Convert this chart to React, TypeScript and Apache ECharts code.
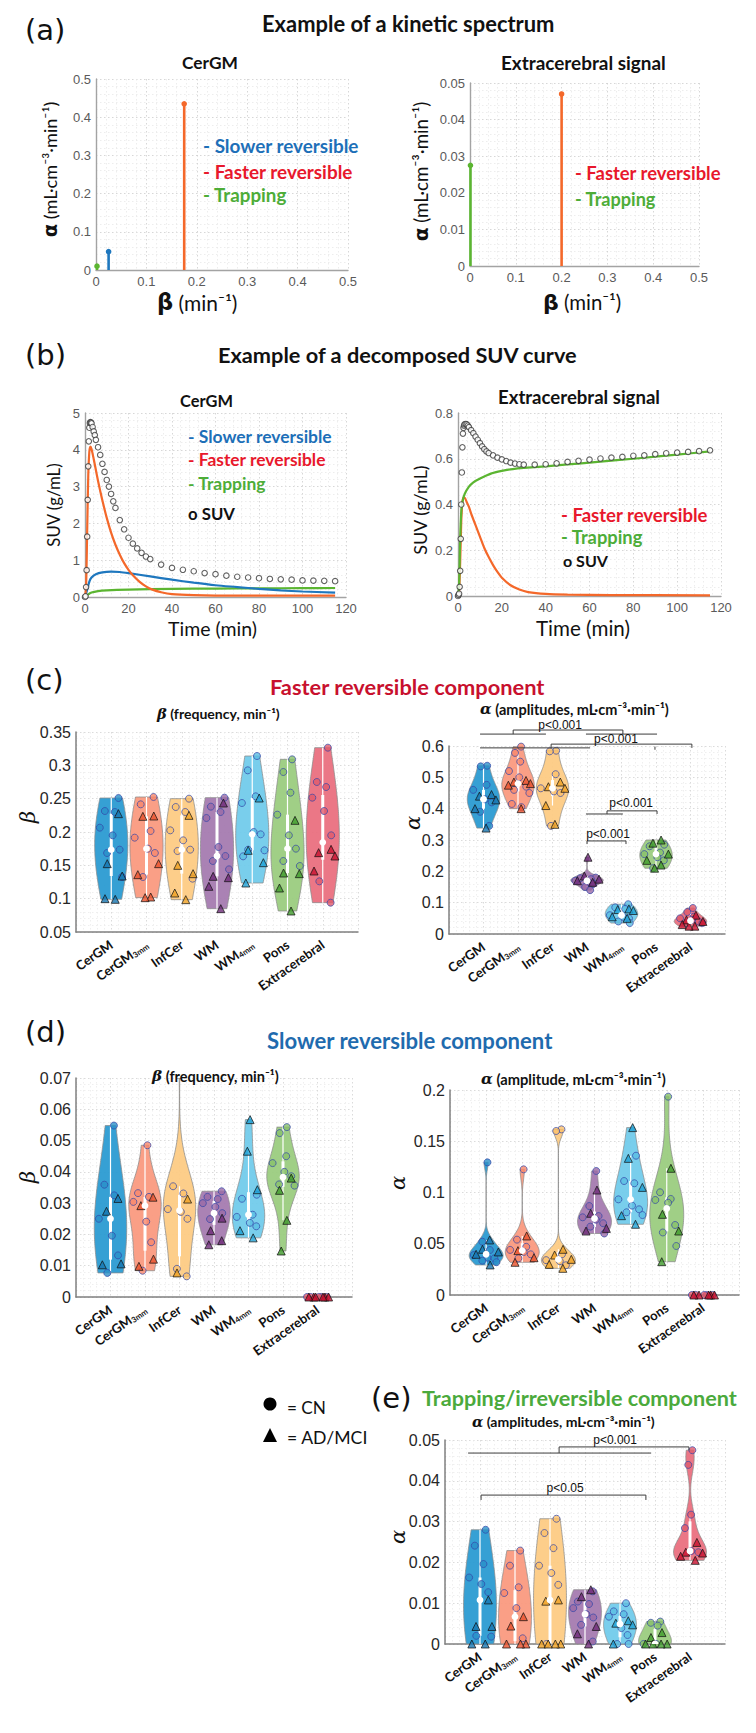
import React, { useEffect, useRef } from 'react';
import * as echarts from 'echarts';

// ---------------- data ----------------
const CATEGORY_LABELS = ['CerGM', '{a|CerGM}{s|3mm}', 'InfCer', 'WM', '{a|WM}{s|4mm}', 'Pons', 'Extracerebral'];

// (a) kinetic spectra
const SPEC_CERGM_BETA = [0.002, 0.025, 0.175];
const SPEC_CERGM_ALPHA = [0.01, 0.048, 0.435];
const SPEC_CERGM_COMP = ['trap', 'slow', 'fast'];
const SPEC_EXTRA_BETA = [0.001, 0.2];
const SPEC_EXTRA_ALPHA = [0.0275, 0.047];
const SPEC_EXTRA_COMP = ['trap', 'fast'];

// (b) decomposed SUV curves
const FRAME_T = [0, 0.25, 0.5, 0.75, 1, 1.25, 1.5, 1.75, 2, 2.25, 2.5, 2.75, 3, 3.5, 4, 4.5, 5, 6, 7, 8, 9, 10, 11, 12, 13, 14, 16, 18, 20, 22, 24, 26, 28, 30, 35, 40, 45, 50, 55, 60, 65, 70, 75, 80, 85, 90, 95, 100, 105, 110, 115];
const SUV_CERGM = [0, 0.02, 0.27, 0.73, 1.64, 2.64, 3.55, 4.23, 4.6, 4.73, 4.75, 4.74, 4.72, 4.62, 4.5, 4.4, 4.27, 4.07, 3.86, 3.62, 3.4, 3.18, 3.0, 2.8, 2.6, 2.42, 2.09, 1.84, 1.61, 1.45, 1.32, 1.2, 1.1, 1.03, 0.88, 0.79, 0.74, 0.7, 0.65, 0.62, 0.58, 0.55, 0.53, 0.51, 0.49, 0.48, 0.47, 0.45, 0.445, 0.44, 0.43];
const SUV_EXTRA = [0, 0.005, 0.01, 0.04, 0.11, 0.25, 0.4, 0.54, 0.65, 0.71, 0.735, 0.745, 0.75, 0.752, 0.75, 0.745, 0.738, 0.725, 0.712, 0.697, 0.683, 0.668, 0.654, 0.642, 0.632, 0.625, 0.615, 0.605, 0.597, 0.59, 0.583, 0.579, 0.576, 0.574, 0.574, 0.576, 0.58, 0.586, 0.591, 0.596, 0.601, 0.605, 0.608, 0.613, 0.615, 0.62, 0.624, 0.627, 0.63, 0.633, 0.637];

const FAST_CERGM_T = [0, 0.5, 1, 1.5, 2, 2.5, 3, 4, 5, 6, 7, 8, 10, 12, 14, 16, 18, 20, 22, 25, 28, 31, 35, 40, 50, 60, 80, 100, 115];
const FAST_CERGM_V = [0, 0.3, 1.8, 3.3, 3.95, 4.09, 4.02, 3.75, 3.45, 3.15, 2.88, 2.62, 2.15, 1.75, 1.42, 1.15, 0.92, 0.74, 0.59, 0.42, 0.29, 0.2, 0.13, 0.08, 0.05, 0.04, 0.04, 0.04, 0.04];
const SLOW_CERGM_T = [0, 1, 2, 3, 5, 8, 12, 16, 20, 30, 40, 50, 60, 70, 80, 90, 100, 115];
const SLOW_CERGM_V = [0, 0.2, 0.42, 0.53, 0.62, 0.67, 0.69, 0.68, 0.65, 0.56, 0.47, 0.39, 0.32, 0.27, 0.22, 0.18, 0.15, 0.12];
const TRAP_CERGM_T = [0, 1, 3, 6, 10, 20, 40, 60, 80, 100, 115];
const TRAP_CERGM_V = [0, 0.05, 0.12, 0.16, 0.18, 0.2, 0.22, 0.23, 0.235, 0.24, 0.245];
const FAST_EXTRA_T = [0, 0.5, 1, 1.5, 2, 2.5, 3, 4, 5, 6, 8, 10, 12, 14, 16, 18, 20, 24, 28, 32, 40, 50, 70, 115];
const FAST_EXTRA_V = [0, 0.02, 0.15, 0.33, 0.41, 0.43, 0.43, 0.41, 0.39, 0.36, 0.31, 0.26, 0.21, 0.17, 0.135, 0.105, 0.08, 0.047, 0.028, 0.017, 0.009, 0.006, 0.004, 0.003];
const TRAP_EXTRA_T = [0, 0.5, 1, 1.5, 2, 3, 5, 7, 10, 15, 20, 25, 30, 40, 50, 60, 70, 80, 90, 100, 115];
const TRAP_EXTRA_V = [0, 0.05, 0.25, 0.37, 0.41, 0.445, 0.478, 0.497, 0.513, 0.535, 0.547, 0.555, 0.56, 0.567, 0.575, 0.583, 0.592, 0.6, 0.609, 0.618, 0.632];

// (c) faster reversible component
const FAST_BETA_CN = [
  [0.251, 0.2315, 0.23, 0.2065, 0.195, 0.1735, 0.1685, 0.1325],
  [0.2525, 0.2415, 0.2015, 0.1915, 0.175, 0.1685, 0.1325],
  [0.25, 0.2375, 0.23, 0.2025, 0.1875, 0.1735, 0.1715, 0.13],
  [0.2515, 0.238, 0.23, 0.221, 0.1775, 0.164, 0.1565, 0.144],
  [0.314, 0.2925, 0.2535, 0.2435, 0.2, 0.1965, 0.1735, 0.1725, 0.1635],
  [0.309, 0.29, 0.259, 0.226, 0.195, 0.175, 0.1565, 0.149],
  [0.3265, 0.275, 0.2675, 0.2515, 0.2315, 0.195, 0.126, 0.094],
];
const FAST_BETA_AD = [
  [0.2275, 0.1525, 0.134, 0.1, 0.099],
  [0.224, 0.2235, 0.1525, 0.136, 0.1025, 0.1015],
  [0.225, 0.15, 0.1375, 0.1085, 0.0985],
  [0.2435, 0.1335, 0.1315, 0.1185, 0.085],
  [0.251, 0.1725, 0.154, 0.1235],
  [0.2175, 0.1385, 0.1375, 0.116, 0.0815],
  [0.174, 0.169, 0.164, 0.1415],
];
const FAST_ALPHA_CN = [
  [0.537, 0.535, 0.476, 0.46, 0.43, 0.42, 0.39, 0.345],
  [0.598, 0.578, 0.55, 0.52, 0.5, 0.47, 0.46, 0.45, 0.415, 0.405],
  [0.585, 0.583, 0.51, 0.465, 0.455, 0.45, 0.345],
  [0.18, 0.178, 0.175, 0.17, 0.165, 0.16, 0.15, 0.14],
  [0.095, 0.085, 0.08, 0.06, 0.055, 0.05, 0.04, 0.035],
  [0.285, 0.28, 0.26, 0.255, 0.245, 0.235, 0.21],
  [0.083, 0.07, 0.055, 0.05, 0.045, 0.04, 0.035, 0.035],
];
const FAST_ALPHA_AD = [
  [0.445, 0.44, 0.428, 0.4, 0.338],
  [0.49, 0.485, 0.48, 0.475, 0.4],
  [0.485, 0.47, 0.465, 0.41, 0.35],
  [0.245, 0.185, 0.175, 0.17, 0.165],
  [0.08, 0.078, 0.075, 0.055, 0.05],
  [0.3, 0.29, 0.255, 0.235, 0.22, 0.21],
  [0.06, 0.045, 0.04, 0.03, 0.025, 0.025],
];

// (d) slower reversible component
const SLOW_BETA_CN = [
  [0.0548, 0.0359, 0.0325, 0.025, 0.0196, 0.0133, 0.0077],
  [0.0485, 0.0332, 0.032, 0.0304, 0.0241, 0.0175, 0.0084],
  [0.09, 0.0354, 0.0331, 0.0281, 0.0272, 0.025, 0.009, 0.0066],
  [0.0338, 0.032, 0.0313, 0.03, 0.0288, 0.0268, 0.0249],
  [0.0327, 0.0314, 0.0263, 0.0256, 0.0237, 0.0226],
  [0.0543, 0.0524, 0.045, 0.0428, 0.04, 0.0386, 0.036, 0.0356],
  [0, 0, 0, 0, 0],
];
const SLOW_BETA_AD = [
  [0.0315, 0.0274, 0.0106, 0.0103],
  [0.0319, 0.0292, 0.0121, 0.0098],
  [0.0313, 0.0077],
  [0.0252, 0.0212, 0.018, 0.0167],
  [0.0567, 0.0466, 0.0343, 0.0212, 0.0189],
  [0.038, 0.0341, 0.0245, 0.0147],
  [0, 0, 0, 0, 0, 0],
];
const SLOW_ALPHA_CN = [
  [0.1294, 0.052, 0.0439, 0.039, 0.0364, 0.0358, 0.0335, 0.032],
  [0.1226, 0.054, 0.047, 0.044, 0.042, 0.0397, 0.0358],
  [0.1616, 0.16, 0.0397, 0.034, 0.033, 0.029],
  [0.121, 0.0868, 0.077, 0.0758, 0.0735, 0.07, 0.0667, 0.06],
  [0.1359, 0.1112, 0.109, 0.0933, 0.0872, 0.0836, 0.0807, 0.078],
  [0.1935, 0.1002, 0.0937, 0.0927, 0.09, 0.0683, 0.061, 0.0478],
  [0, 0, 0, 0, 0],
];
const SLOW_ALPHA_AD = [
  [0.0537, 0.0446, 0.042, 0.0397, 0.0293],
  [0.0576, 0.0433, 0.0364, 0.0319],
  [0.0446, 0.039, 0.0348, 0.0299, 0.026],
  [0.1024, 0.0797, 0.065, 0.0624],
  [0.1633, 0.1333, 0.105, 0.0774, 0.069],
  [0.1236, 0.0787, 0.0624, 0.0325],
  [0, 0, 0, 0, 0],
];

// (e) trapping component
const TRAP_ALPHA_CN = [
  [0.028, 0.0241, 0.0196, 0.0163, 0.0147, 0.0127, 0.002, 0.0018],
  [0.0229, 0.0192, 0.0139, 0.0125, 0.0088, 0.0014],
  [0.0307, 0.0272, 0.0235, 0.0192, 0.0174, 0.0145, 0],
  [0.0129, 0.0104, 0.0098, 0.0088, 0.0073, 0.0065, 0.0047, 0.0006],
  [0.01, 0.008, 0.0073, 0.0067, 0.0039, 0.0022, 0, 0],
  [0.0055, 0.0052, 0.0045, 0, 0],
  [0.0475, 0.0439, 0.0317, 0.0284, 0.0228, 0.0225],
];
const TRAP_ALPHA_AD = [
  [0.0108, 0.0043, 0.0043, 0, 0],
  [0.0067, 0.0044, 0, 0, 0],
  [0.0108, 0.0105, 0, 0, 0, 0],
  [0.0133, 0.0116, 0.0043, 0.0025, 0],
  [0.0057, 0.0051, 0.0047, 0],
  [0.0028, 0.0016, 0, 0, 0, 0],
  [0.0249, 0.0225, 0.0223, 0.0215, 0.0205],
];

// significance brackets: [x1, y1, x2, y2] in axis units
const BRACKETS_C = [
  [0.9, 0.638, 2.81, 0.638], [3.97, 0.638, 6.03, 0.638],
  [1.86, 0.638, 1.86, 0.651], [1.86, 0.651, 5.04, 0.651], [5.04, 0.651, 5.04, 0.638],
  [0.9, 0.594, 4.09, 0.594],
  [2.96, 0.594, 2.96, 0.606], [2.96, 0.606, 7.04, 0.606], [7.04, 0.606, 7.04, 0.594],
  [5.97, 0.598, 5.97, 0.588],
  [3.97, 0.383, 5.04, 0.383],
  [4.58, 0.383, 4.58, 0.393], [4.58, 0.393, 6.03, 0.393], [6.03, 0.393, 6.03, 0.383],
  [4.0, 0.287, 4.0, 0.297], [4.0, 0.297, 5.13, 0.297], [5.13, 0.297, 5.13, 0.287],
];
const PTEXT_C = [[3.22, 0.667], [4.84, 0.623], [5.28, 0.418], [4.61, 0.319]];
const PLABEL_C = ['p<0.001', 'p<0.001', 'p<0.001', 'p<0.001'];
const BRACKETS_E = [
  [0.66, 0.0468, 5.89, 0.0468],
  [3.26, 0.0468, 3.26, 0.0483], [3.26, 0.0483, 6.97, 0.0483], [6.97, 0.0483, 6.97, 0.0475],
  [1.03, 0.0353, 1.03, 0.0365], [1.03, 0.0365, 5.74, 0.0365], [5.74, 0.0365, 5.74, 0.0353],
];
const PTEXT_E = [[4.86, 0.0501], [3.43, 0.0382]];
const PLABEL_E = ['p<0.001', 'p<0.05'];

// ---------------- styles ----------------
const FONT = 'Lato, "Noto Sans", "DejaVu Sans", sans-serif';
const NUMFONT = '"Liberation Sans", Arial, sans-serif';
const DVS = '"DejaVu Sans", sans-serif';
const DVSERIF = '"DejaVu Serif", serif';
const COMP_LINE = { slow: '#1E77BE', fast: '#F4682A', trap: '#5BB531' };
const COMP_TEXT = { slow: '#1D6FB8', fast: '#E8182C', trap: '#4DAD38' };
const VIOLIN_FILL = ['#2B9BD2', '#FA9A80', '#FDCB84', '#A57BB0', '#72CBEB', '#9BCC7F', '#EA7080'];
const CIRCLE_FILL = ['#2A90C8', '#F7876B', '#FBC06A', '#9A6AA6', '#5BBEE3', '#88C06A', '#E05A6B'];
const TRI_FILL = ['#1776B0', '#E8502A', '#EFA020', '#6E2A78', '#1EA0D5', '#3E9A2A', '#C8102E'];
const JITTER = [0.75, -0.55, 0.3, -0.85, 0.1, 0.6, -0.3, 0.9, -0.7, 0.45, -0.15, 0.8, -0.5, 0.2, -0.9, 0.55, -0.4, 0.05];

const GRIDS = [
  [96, 79, 252, 191],
  [470, 83, 229, 183],
  [85, 413, 261, 184],
  [458, 413, 263, 183],
  [76, 732, 282, 200],
  [449, 746, 276, 188],
  [76, 1078, 276, 219],
  [450, 1090, 289, 205],
  [445, 1440, 280, 204],
];

// ---------------- helpers ----------------
const pairs = (t: number[], v: number[]) => t.map((x, i) => [x, v[i]]);
function quantile(s: number[], p: number) {
  const pos = (s.length - 1) * p;
  const lo = Math.floor(pos), hi = Math.ceil(pos);
  return s[lo] + (s[hi] - s[lo]) * (pos - lo);
}
function stats(vals: number[]) {
  const s = [...vals].sort((a, b) => a - b);
  const med = quantile(s, 0.5), q1 = quantile(s, 0.25), q3 = quantile(s, 0.75);
  const iqr = q3 - q1;
  let lo = s[0], hi = s[s.length - 1];
  for (const v of s) { if (v >= q1 - 1.5 * iqr) { lo = v; break; } }
  for (let i = s.length - 1; i >= 0; i--) { if (s[i] <= q3 + 1.5 * iqr) { hi = s[i]; break; } }
  return { med, q1, q3, lo, hi };
}
function kdeProfile(vals: number[], maxHalf: number) {
  const n = vals.length;
  const s = [...vals].sort((a, b) => a - b);
  const lo = s[0], hi = s[n - 1];
  if (hi - lo < 1e-12) return null;
  const med = quantile(s, 0.5);
  const dev = s.map(v => Math.abs(v - med)).sort((a, b) => a - b);
  let sig = quantile(dev, 0.5) / 0.6745;
  if (!(sig > 0)) {
    const m = s.reduce((a, b) => a + b, 0) / n;
    sig = Math.sqrt(s.reduce((a, b) => a + (b - m) * (b - m), 0) / (n - 1));
  }
  const h = 1.5 * sig * Math.pow(4 / (3 * n), 0.2);
  const N = 80;
  const prof: number[][] = [];
  let mx = 0;
  for (let i = 0; i <= N; i++) {
    const y = lo + ((hi - lo) * i) / N;
    let d = 0;
    for (const v of s) d += Math.exp(-0.5 * ((y - v) / h) * ((y - v) / h));
    prof.push([y, d]);
    if (d > mx) mx = d;
  }
  return prof.map(([y, d]) => [y, (d / mx) * maxHalf]);
}
function hwAt(prof: number[][] | null, y: number) {
  if (!prof) return 0.42;
  if (y <= prof[0][0]) return prof[0][1];
  for (let i = 1; i < prof.length; i++) {
    if (y <= prof[i][0]) {
      const [y0, w0] = prof[i - 1], [y1, w1] = prof[i];
      return w0 + ((w1 - w0) * (y - y0)) / (y1 - y0 || 1);
    }
  }
  return prof[prof.length - 1][1];
}

// text fitting: measure with canvas so the text spans the same width as in the reference
let measureCtx: any = null;
function measureWidth(text: string, font: string) {
  if (!measureCtx) measureCtx = document.createElement('canvas').getContext('2d');
  measureCtx.font = font;
  return measureCtx.measureText(text).width;
}
function fitSize(text: string, span: number, weight: string, family: string, style = 'normal') {
  const plain = text.replace(/\{\w+\|([^}]*)\}/g, '$1');
  const w = measureWidth(plain, `${style} ${weight} 100px ${family}`);
  if (!(w > 0)) return 16;
  return Math.max(8, Math.min(34, (100 * span) / w));
}
function buildRich(rich: any, size: number, fill: string) {
  if (!rich) return undefined;
  const out: any = {};
  Object.keys(rich).forEach(k => {
    const r = rich[k];
    out[k] = { fontFamily: r.family, fontWeight: r.weight || 'normal', fontStyle: r.style || 'normal', fontSize: size * (r.scale || 1), fill };
  });
  return out;
}
// horizontal text whose left edge is x0 and right edge x1
function box(x0: number, x1: number, y: number, text: string, o: any = {}) {
  const weight = o.weight || 'bold';
  const family = o.family || FONT;
  const size = o.size || fitSize(text, x1 - x0, weight, family, o.style || 'normal');
  const fill = o.fill || '#111';
  return {
    type: 'text', x: x0, y, z: 100,
    style: {
      text, fill, fontSize: size, fontWeight: weight, fontStyle: o.style || 'normal', fontFamily: family,
      align: 'left', verticalAlign: 'middle', rich: buildRich(o.rich, size, fill),
    },
  };
}
// vertical text reading bottom-to-top, centred at x, spanning y0..y1
function vbox(x: number, y0: number, y1: number, text: string, o: any = {}) {
  const weight = o.weight || 'normal';
  const family = o.family || FONT;
  const size = o.size || fitSize(text, y1 - y0, weight, family, o.style || 'normal');
  const fill = o.fill || '#111';
  return {
    type: 'text', x, y: (y0 + y1) / 2, rotation: Math.PI / 2, z: 100,
    style: {
      text, fill, fontSize: size, fontWeight: weight, fontStyle: o.style || 'normal', fontFamily: family,
      align: 'center', verticalAlign: 'middle', rich: buildRich(o.rich, size, fill),
    },
  };
}

const dotted = (c: string) => ({ show: true, lineStyle: { color: c, type: [1.5, 2.5], width: 0.8 } });

function smallAxis(gi: number, min: number, max: number, interval: number) {
  return {
    gridIndex: gi, type: 'value', min, max, interval,
    axisLine: { show: true, onZero: false, lineStyle: { color: '#a3a3a3', width: 1.4 } },
    axisTick: { show: false },
    axisLabel: { show: true, color: '#5a5a5a', fontSize: 13, fontFamily: NUMFONT, margin: 5 },
    splitLine: dotted('#cdcdcd'),
    minorTick: { show: false, splitNumber: 5 },
    minorSplitLine: dotted('#e9e9e9'),
  };
}
function violinXAxis(gi: number) {
  return {
    gridIndex: gi, type: 'value', min: 0, max: 8, interval: 1,
    axisLine: { show: true, onZero: false, lineStyle: { color: '#808080', width: 1.5 } },
    axisTick: { show: false },
    axisLabel: {
      show: true, rotate: 35, margin: 11, interval: 0,
      fontSize: 13, fontWeight: 'bold', fontFamily: FONT, color: '#111',
      formatter: (v: number) => (v >= 1 && v <= 7 ? CATEGORY_LABELS[Math.round(v) - 1] : ''),
      rich: {
        a: { fontSize: 13, fontWeight: 'bold', fontFamily: FONT, color: '#111' },
        s: { fontSize: 8, fontWeight: 'bold', fontFamily: FONT, color: '#111', padding: [6, 0, 0, 0] },
      },
    },
    splitLine: dotted('#d2d2d2'),
    minorTick: { show: false, splitNumber: 5 },
    minorSplitLine: dotted('#ebebeb'),
  };
}
function violinYAxis(gi: number, min: number, max: number, interval: number) {
  return {
    gridIndex: gi, type: 'value', min, max, interval,
    axisLine: { show: true, onZero: false, lineStyle: { color: '#808080', width: 1.5 } },
    axisTick: { show: false },
    axisLabel: { show: true, color: '#262626', fontSize: 16, fontFamily: NUMFONT, margin: 5 },
    splitLine: dotted('#d2d2d2'),
    minorTick: { show: false, splitNumber: 5 },
    minorSplitLine: dotted('#ebebeb'),
  };
}

function stemSeries(gi: number, beta: number[], alpha: number[], comp: string[]) {
  return {
    type: 'custom', xAxisIndex: gi, yAxisIndex: gi, z: 4, clip: false,
    data: beta.map((b, i) => [b, alpha[i]]),
    renderItem: (params: any, api: any) => {
      const i = params.dataIndex;
      const p0 = api.coord([beta[i], 0]);
      const p1 = api.coord([beta[i], alpha[i]]);
      const col = COMP_LINE[comp[i]];
      return {
        type: 'group', children: [
          { type: 'line', shape: { x1: p0[0], y1: p0[1], x2: p1[0], y2: p1[1] }, style: { stroke: col, lineWidth: 2.6 } },
          { type: 'circle', shape: { cx: p1[0], cy: p1[1], r: 2.8 }, style: { fill: col } },
        ],
      };
    },
  };
}

function curve(gi: number, t: number[], v: number[], color: string) {
  return {
    type: 'line', xAxisIndex: gi, yAxisIndex: gi, data: pairs(t, v), showSymbol: false, symbol: 'none',
    smooth: 0.3, lineStyle: { color, width: 2.2 }, z: 3,
  };
}
function suvSeries(gi: number, v: number[]) {
  return {
    type: 'scatter', xAxisIndex: gi, yAxisIndex: gi, data: pairs(FRAME_T, v), symbol: 'circle', symbolSize: 5.5,
    itemStyle: { color: '#ffffff', borderColor: '#3a3a3a', borderWidth: 1.1 }, z: 5,
  };
}

function violinPanel(gi: number, cn: number[][], ad: number[][], yMax: number) {
  const groups = cn.map((c, i) => {
    const vals = c.concat(ad[i]);
    return { prof: kdeProfile(vals, 0.47), st: stats(vals) };
  });
  const circles: any[] = [];
  const tris: any[] = [];
  cn.forEach((arr, i) => arr.forEach((y, k) => {
    const x = i + 1 + JITTER[k % JITTER.length] * hwAt(groups[i].prof, y) * 0.85;
    circles.push({ value: [x, y], itemStyle: { color: CIRCLE_FILL[i], borderColor: '#3347a8', borderWidth: 0.9 } });
  }));
  ad.forEach((arr, i) => arr.forEach((y, k) => {
    const x = i + 1 + JITTER[(k + 5) % JITTER.length] * hwAt(groups[i].prof, y) * 0.85;
    tris.push({ value: [x, y], itemStyle: { color: TRI_FILL[i], borderColor: '#111', borderWidth: 0.9 } });
  }));
  const violin = {
    type: 'custom', xAxisIndex: gi, yAxisIndex: gi, z: 2, clip: true,
    data: groups.map((g, i) => [i + 1, g.st.med]),
    renderItem: (params: any, api: any) => {
      const i = params.dataIndex;
      const g = groups[i];
      const c = i + 1;
      if (!g.prof) return { type: 'group', children: [] };
      const pts: number[][] = [];
      for (const [y, w] of g.prof) pts.push(api.coord([c + w, Math.min(y, yMax)]));
      for (let k = g.prof.length - 1; k >= 0; k--) {
        const [y, w] = g.prof[k];
        pts.push(api.coord([c - w, Math.min(y, yMax)]));
      }
      const a = api.coord([c, g.st.lo]), b = api.coord([c, Math.min(g.st.hi, yMax)]);
      const q1 = api.coord([c, g.st.q1]), q3 = api.coord([c, Math.min(g.st.q3, yMax)]);
      return {
        type: 'group', children: [
          { type: 'polygon', shape: { points: pts }, style: { fill: VIOLIN_FILL[i], stroke: '#8a8a8a', lineWidth: 0.8, opacity: 0.95 } },
          { type: 'line', shape: { x1: a[0], y1: a[1], x2: b[0], y2: b[1] }, style: { stroke: '#ffffff', lineWidth: 1.2 } },
          { type: 'line', shape: { x1: q1[0], y1: q1[1], x2: q3[0], y2: q3[1] }, style: { stroke: '#ffffff', lineWidth: 3 } },
        ],
      };
    },
  };
  const medians = {
    type: 'custom', xAxisIndex: gi, yAxisIndex: gi, z: 6, clip: true,
    data: groups.map((g, i) => [i + 1, g.st.med]),
    renderItem: (params: any, api: any) => {
      const g = groups[params.dataIndex];
      if (!g.prof) return { type: 'group', children: [] };
      const p = api.coord([params.dataIndex + 1, g.st.med]);
      return { type: 'circle', shape: { cx: p[0], cy: p[1], r: 3.4 }, style: { fill: '#ffffff' } };
    },
  };
  return [
    violin,
    { type: 'scatter', xAxisIndex: gi, yAxisIndex: gi, symbol: 'circle', symbolSize: 7, z: 4, data: circles, clip: true },
    { type: 'scatter', xAxisIndex: gi, yAxisIndex: gi, symbol: 'triangle', symbolSize: 8, z: 5, data: tris, clip: true },
    medians,
  ];
}

function bracketSeries(gi: number, segs: number[][], tpos: number[][], tlabels: string[]) {
  return [
    {
      type: 'custom', xAxisIndex: gi, yAxisIndex: gi, z: 8, clip: false, data: segs,
      renderItem: (params: any, api: any) => {
        const s = segs[params.dataIndex];
        const p1 = api.coord([s[0], s[1]]), p2 = api.coord([s[2], s[3]]);
        return { type: 'line', shape: { x1: p1[0], y1: p1[1], x2: p2[0], y2: p2[1] }, style: { stroke: '#3c3c3c', lineWidth: 1 } };
      },
    },
    {
      type: 'custom', xAxisIndex: gi, yAxisIndex: gi, z: 8, clip: false, data: tpos,
      renderItem: (params: any, api: any) => {
        const p = api.coord(tpos[params.dataIndex]);
        return {
          type: 'text', x: p[0], y: p[1],
          style: { text: tlabels[params.dataIndex], fontSize: 12, fontFamily: NUMFONT, fill: '#111', align: 'center', verticalAlign: 'middle' },
        };
      },
    },
  ];
}

function buildOption() {
  const xAxis = [
    smallAxis(0, 0, 0.5, 0.1), smallAxis(1, 0, 0.5, 0.1),
    smallAxis(2, 0, 120, 20), smallAxis(3, 0, 120, 20),
    violinXAxis(4), violinXAxis(5), violinXAxis(6), violinXAxis(7), violinXAxis(8),
  ];
  const yAxis = [
    smallAxis(0, 0, 0.5, 0.1), smallAxis(1, 0, 0.05, 0.01),
    smallAxis(2, 0, 5, 1), smallAxis(3, 0, 0.8, 0.2),
    violinYAxis(4, 0.05, 0.35, 0.05), violinYAxis(5, 0, 0.6, 0.1),
    violinYAxis(6, 0, 0.07, 0.01), violinYAxis(7, 0, 0.2, 0.05), violinYAxis(8, 0, 0.05, 0.01),
  ];
  const series: any[] = [
    stemSeries(0, SPEC_CERGM_BETA, SPEC_CERGM_ALPHA, SPEC_CERGM_COMP),
    stemSeries(1, SPEC_EXTRA_BETA, SPEC_EXTRA_ALPHA, SPEC_EXTRA_COMP),
    curve(2, TRAP_CERGM_T, TRAP_CERGM_V, COMP_LINE.trap),
    curve(2, SLOW_CERGM_T, SLOW_CERGM_V, COMP_LINE.slow),
    curve(2, FAST_CERGM_T, FAST_CERGM_V, COMP_LINE.fast),
    suvSeries(2, SUV_CERGM),
    curve(3, FAST_EXTRA_T, FAST_EXTRA_V, COMP_LINE.fast),
    curve(3, TRAP_EXTRA_T, TRAP_EXTRA_V, COMP_LINE.trap),
    suvSeries(3, SUV_EXTRA),
    ...violinPanel(4, FAST_BETA_CN, FAST_BETA_AD, 0.35),
    ...violinPanel(5, FAST_ALPHA_CN, FAST_ALPHA_AD, 0.6),
    ...violinPanel(6, SLOW_BETA_CN, SLOW_BETA_AD, 0.07),
    ...violinPanel(7, SLOW_ALPHA_CN, SLOW_ALPHA_AD, 0.2),
    ...violinPanel(8, TRAP_ALPHA_CN, TRAP_ALPHA_AD, 0.05),
    ...bracketSeries(5, BRACKETS_C, PTEXT_C, PLABEL_C),
    ...bracketSeries(8, BRACKETS_E, PTEXT_E, PLABEL_E),
  ];

  const LET = { size: 29, family: DVS, weight: 'normal' };
  const boldGreek = { b: { family: DVS, weight: 'bold', scale: 1.08 } };
  const itGreek = { g: { family: DVSERIF, weight: 'bold', style: 'italic', scale: 1.05 } };
  const ital = { size: 21, style: 'italic', family: DVSERIF };
  const elements: any[] = [
    // panel letters
    box(25, 70, 30, '(a)', LET), box(25, 70, 355, '(b)', LET), box(25, 70, 680, '(c)', LET),
    box(25, 70, 1032, '(d)', LET), box(371, 412, 1398, '(e)', LET),
    // titles
    box(262, 555, 23, 'Example of a kinetic spectrum'),
    box(218, 578, 355, 'Example of a decomposed SUV curve'),
    box(270, 545, 686, 'Faster reversible component', { fill: '#C8102E' }),
    box(267, 553, 1040, 'Slower reversible component', { fill: '#1F6BAE' }),
    box(422, 737, 1398, 'Trapping/irreversible component', { fill: '#4BAA3C' }),
    // (a)
    box(182, 238, 62, 'CerGM'), box(501, 666, 62, 'Extracerebral signal'),
    box(203, 359, 145, '- Slower reversible', { fill: COMP_TEXT.slow }),
    box(203, 353, 171, '- Faster reversible', { fill: COMP_TEXT.fast }),
    box(203, 287, 194, '- Trapping', { fill: COMP_TEXT.trap }),
    box(575, 721, 173, '- Faster reversible', { fill: COMP_TEXT.fast }),
    box(575, 656, 199, '- Trapping', { fill: COMP_TEXT.trap }),
    vbox(50, 103, 236, '{b|α} (mL·cm⁻³·min⁻¹)', { rich: boldGreek }),
    vbox(421, 103, 240, '{b|α} (mL·cm⁻³·min⁻¹)', { rich: boldGreek }),
    box(157, 233, 302, '{b|β} (min⁻¹)', { weight: 'normal', rich: boldGreek }),
    box(543, 617, 302, '{b|β} (min⁻¹)', { weight: 'normal', rich: boldGreek }),
    // (b)
    box(180, 233, 400, 'CerGM'), box(498, 660, 397, 'Extracerebral signal'),
    box(188, 332, 436, '- Slower reversible', { fill: COMP_TEXT.slow }),
    box(188, 326, 459, '- Faster reversible', { fill: COMP_TEXT.fast }),
    box(188, 266, 483, '- Trapping', { fill: COMP_TEXT.trap }),
    box(188, 235, 513, 'o SUV'),
    box(561, 708, 515, '- Faster reversible', { fill: COMP_TEXT.fast }),
    box(561, 643, 537, '- Trapping', { fill: COMP_TEXT.trap }),
    box(563, 608, 560, 'o SUV'),
    vbox(53, 463, 547, 'SUV (g/mL)'),
    vbox(420, 465, 555, 'SUV (g/mL)'),
    box(168, 257, 628, 'Time (min)', { weight: 'normal' }),
    box(536, 630, 628, 'Time (min)', { weight: 'normal' }),
    // (c)
    box(157, 278, 713, '{g|β} (frequency, min⁻¹)', { rich: itGreek }),
    box(480, 666, 709, '{g|α} (amplitudes, mL·cm⁻³·min⁻¹)', { rich: itGreek }),
    vbox(28, 806, 828, 'β', ital),
    vbox(413, 812, 834, 'α', ital),
    // (d)
    box(152, 277, 1076, '{g|β} (frequency, min⁻¹)', { rich: itGreek }),
    box(481, 663, 1079, '{g|α} (amplitude, mL·cm⁻³·min⁻¹)', { rich: itGreek }),
    vbox(28, 1166, 1188, 'β', ital),
    vbox(398, 1172, 1194, 'α', ital),
    // (e)
    box(472, 652, 1421, '{g|α} (amplitudes, mL·cm⁻³·min⁻¹)', { rich: itGreek }),
    vbox(398, 1526, 1548, 'α', ital),
    // CN / AD legend
    { type: 'circle', shape: { cx: 270, cy: 1404, r: 6.5 }, style: { fill: '#000' }, z: 100 },
    { type: 'polygon', shape: { points: [[270, 1428], [263, 1442], [277, 1442]] }, style: { fill: '#000' }, z: 100 },
    box(287, 326, 1407, '= CN', { weight: 'normal' }),
    box(287, 368, 1437, '= AD/MCI', { weight: 'normal' }),
  ];

  return {
    animation: false,
    backgroundColor: '#ffffff',
    grid: GRIDS.map(([l, t, w, h]) => ({ left: l, top: t, width: w, height: h, containLabel: false, outerBoundsMode: 'none', show: false })),
    xAxis, yAxis, series,
    graphic: { elements },
  };
}

export default function App() {
  const ref = useRef<HTMLDivElement>(null);
  useEffect(() => {
    if (!ref.current) return;
    const chart = echarts.init(ref.current, undefined, { renderer: 'svg' });
    chart.setOption(buildOption() as any);
    return () => chart.dispose();
  }, []);
  return <div ref={ref} style={{ position: 'absolute', left: 0, top: 0, width: 756, height: 1733, background: '#fff' }} />;
}
